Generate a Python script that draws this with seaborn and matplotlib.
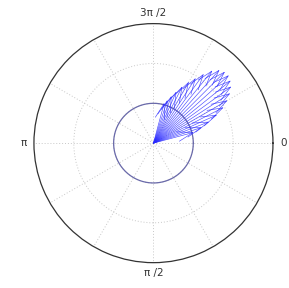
import numpy as np
import matplotlib
matplotlib.use("Agg")
import matplotlib.pyplot as plt
import seaborn as sns

sns.set_style("white")
plt.rcParams['font.family'] = ['DejaVu Sans']

# arrow directions (degrees, counter-clockwise on screen) and lengths
arrow_deg = [15, 18, 21, 24, 27, 30, 33, 36, 39, 42, 45, 48, 51, 54, 57, 60, 63, 66, 69, 72, 75]
arrow_len = [1.05, 1.28, 1.50, 1.75, 1.98, 2.15, 2.30, 2.42, 2.50, 2.55, 2.54, 2.48, 2.35, 2.15, 1.95, 1.78, 1.60, 1.42, 1.27, 1.14, 1.05]
circle_r = 1.0
r_max = 3.0
tick_deg = [0, 90, 180, 270]
tick_text = ["0", "π /2", "π", "3π /2"]

fig = plt.figure(figsize=(2.89, 2.88), dpi=100)
ax = fig.add_axes([0.116, 0.088, 0.83, 0.83], projection="polar")
ax.set_theta_zero_location("E")
ax.set_theta_direction(-1)
ax.set_rlim(0, r_max)
ax.set_rticks([1, 2])
ax.set_yticklabels([])
grid_deg = list(range(0, 360, 30))
labels = [tick_text[tick_deg.index(d)] if d in tick_deg else "" for d in grid_deg]
ax.set_thetagrids(grid_deg, labels, fontsize=7.5, color="#333333")
ax.tick_params(axis="x", pad=-3)
ax.grid(True, color="#c8c8c8", linestyle=(0, (1, 2)), linewidth=0.7)
ax.spines["polar"].set_color("#333333")
ax.spines["polar"].set_linewidth(0.9)

# inner circle
th = np.linspace(0, 2 * np.pi, 300)
sns.lineplot(x=th, y=np.full_like(th, circle_r), ax=ax, color="#6a6aaa", linewidth=0.9, sort=False)

# arrows from origin
for d, r in zip(arrow_deg, arrow_len):
    t = np.deg2rad(360 - d)
    ax.annotate("", xy=(t, r), xytext=(0, 0),
                arrowprops=dict(arrowstyle="->,head_length=1.1,head_width=0.35",
                                color="#2a2aff", lw=0.45, shrinkA=0, shrinkB=0,
                                alpha=0.85))

fig.savefig("out.png", dpi=100)
